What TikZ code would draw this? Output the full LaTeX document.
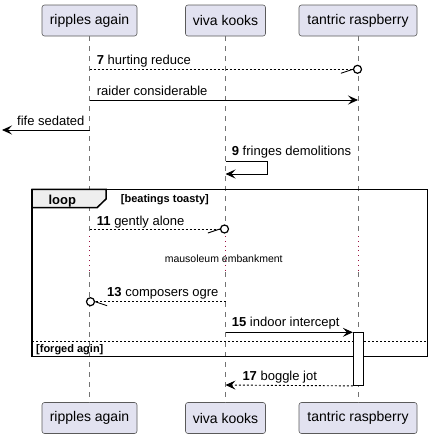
\documentclass[tikz,border=0pt]{standalone}
\usepackage{fontspec}
\setmainfont{Liberation Sans}
\usetikzlibrary{arrows.meta,calc}
\definecolor{partfill}{HTML}{E2E2F0}
\definecolor{partline}{HTML}{5A5A5A}
\definecolor{delayc}{HTML}{9B1040}
\definecolor{tabfill}{HTML}{EEEEEE}
\begin{document}
\begin{tikzpicture}[x=1pt,y=-1pt,
  part/.style={draw=partline, fill=partfill, rounded corners=2.5pt, line width=0.6pt, inner sep=0pt, minimum height=31pt, font=\fontsize{14}{16}\selectfont},
  life/.style={draw=black!55, line width=0.6pt, dash pattern=on 5pt off 5pt},
  delayline/.style={draw=delayc, line width=0.8pt, dash pattern=on 0.8pt off 4pt},
  msg/.style={line width=0.9pt},
  ret/.style={msg, dash pattern=on 2pt off 2pt},
  head/.style={-{Stealth[length=10pt,width=9pt,inset=4pt]}},
  lbl/.style={anchor=base west, inner sep=0pt, font=\fontsize{13}{15}\selectfont},
  guard/.style={anchor=base west, inner sep=0pt, font=\fontsize{11}{13}\selectfont\bfseries},
  endcirc/.style={circle, draw, fill=white, line width=1.2pt, minimum size=8pt, inner sep=0pt},
  frame/.style={line width=1.5pt},
  actbox/.style={draw, fill=white, line width=0.9pt, minimum width=10pt, minimum height=52.7pt, inner sep=0pt}
]
\useasboundingbox (0,0) rectangle (433,439);

% participants
\node[part, minimum width=95pt] (pa) at (89.5,20.5) {ripples again};
\node[part, minimum width=80pt] (pb) at (225.5,20.5) {viva kooks};
\node[part, minimum width=118pt] (pc) at (358,20.5) {tantric raspberry};
\node[part, minimum width=95pt] (qa) at (89.5,418) {ripples again};
\node[part, minimum width=80pt] (qb) at (225.5,418) {viva kooks};
\node[part, minimum width=118pt] (qc) at (358,418) {tantric raspberry};

% delay rows
\coordinate (d1) at (0,236);
\coordinate (d2) at (0,272);

% lifelines
\foreach \p/\q in {pa/qa,pb/qb,pc/qc}{
  \draw[life] (\p.south) -- (\p.south |- d1);
  \draw[delayline] (\p.south |- d1) -- (\p.south |- d2);
  \draw[life] (\p.south |- d2) -- (\q.north);
}

% loop frame
\coordinate (f1) at (32,189.3);
\coordinate (f2) at (427.7,356.7);
\draw[frame, fill=tabfill] (f1) -- (106,189.3) -- (106,199) -- (97,207.7) -- (32,207.7) -- cycle;
\draw[frame] (f1) rectangle (f2);
\node[anchor=base west, inner sep=0pt, font=\fontsize{13}{15}\selectfont\bfseries] (looplbl) at (48.3,204) {loop};
\node[guard] (g1) at (120.7,202.3) {[beatings toasty]};
\coordinate (e1) at (32,341);
\coordinate (e2) at (427.7,341);
\draw[line width=0.7pt, dash pattern=on 2pt off 2pt] (e1) -- (e2);
\node[guard] (g2) at (36,352.7) {[forged agin]};

% 7 hurting reduce
\coordinate (a7) at (pa.south |- 0,69.3);
\node[endcirc] (c7) at (357.5,69.3) {};
\draw[ret] (a7) -- (c7.west);
\draw[msg] ($(c7.west)+(-12,4)$) -- (c7.west);
\node[lbl] (l7) at (96.7,64) {\textbf{7} hurting reduce};

% raider considerable
\coordinate (a8) at (pa.south |- 0,100);
\coordinate (b8) at (pc.south |- 0,100);
\draw[msg,head] (a8) -- (b8);
\node[lbl] (l8) at (96.7,95) {raider considerable};

% fife sedated
\coordinate (a9) at (pa.south |- 0,130);
\coordinate (b9) at (2,130);
\draw[msg,head] (a9) -- (b9);
\node[lbl] (l9) at (17,125) {fife sedated};

% 9 fringes demolitions
\coordinate (s1) at (pb.south |- 0,161.7);
\coordinate (s2) at (pb.south |- 0,174);
\draw[msg,head] (s1) -- ++(41.8,0) |- (s2);
\node[lbl] (l10) at (231.7,155.7) {\textbf{9} fringes demolitions};

% 11 gently alone
\coordinate (a11) at (pa.south |- 0,229);
\node[endcirc] (c11) at (224.5,229) {};
\draw[ret] (a11) -- (c11.west);
\draw[msg] ($(c11.west)+(-12,4)$) -- (c11.west);
\node[lbl] (l11) at (96.7,225) {\textbf{11} gently alone};

% delay text
\node[anchor=base, inner sep=0pt, font=\fontsize{10.5}{12}\selectfont] (dl) at (223.7,262) {mausoleum embankment};

% 13 composers ogre
\coordinate (a13) at (pb.south |- 0,301.7);
\node[endcirc] (c13) at (90.5,301.7) {};
\draw[ret] (a13) -- (c13.east);
\draw[msg] ($(c13.east)+(12,4)$) -- (c13.east);
\node[lbl] (l13) at (107,296.7) {\textbf{13} composers ogre};

% activation
\node[actbox, anchor=north] (act) at (358.3,332.3) {};

% 15 indoor intercept
\coordinate (a15) at (pb.south |- 0,332.3);
\draw[msg,head] (a15) -- (act.north west);
\node[lbl] (l15) at (231.7,326.7) {\textbf{15} indoor intercept};

% 17 boggle jot
\coordinate (b17) at (pb.south |- 0,385);
\draw[ret,head] (act.south west) -- (b17);
\node[lbl] (l17) at (242.3,380.7) {\textbf{17} boggle jot};
\end{tikzpicture}
\end{document}
